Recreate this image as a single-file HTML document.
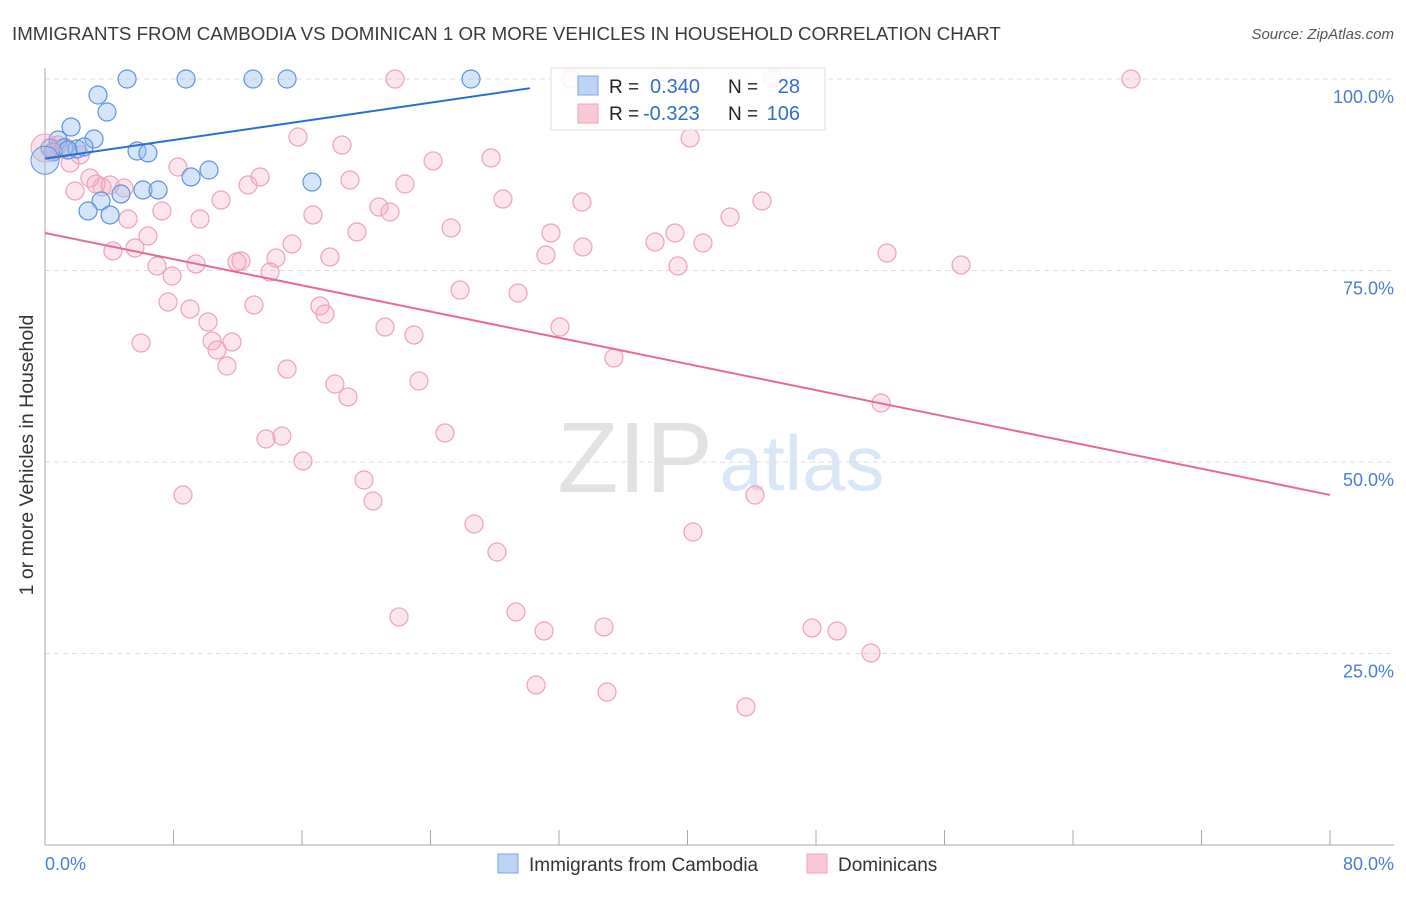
<!DOCTYPE html>
<html><head><meta charset="utf-8"><style>
body{margin:0;background:#fff;font-family:"Liberation Sans",sans-serif}
svg text{font-family:"Liberation Sans",sans-serif}
</style></head><body>
<svg width="1406" height="892" viewBox="0 0 1406 892">
<text x="12" y="40" font-size="18.7" fill="#3a3a3a">IMMIGRANTS FROM CAMBODIA VS DOMINICAN 1 OR MORE VEHICLES IN HOUSEHOLD CORRELATION CHART</text>
<text x="1394" y="39" font-size="15" fill="#555" font-style="italic" text-anchor="end">Source: ZipAtlas.com</text>
<g>
<text x="635" y="492" font-size="100" fill="#e2e2e2" text-anchor="middle" font-family="Liberation Serif,serif">ZIP</text>
<text x="802" y="490" font-size="78" fill="#d8e6f5" text-anchor="middle">atlas</text>
</g>
<g id="grid"></g>
<g id="axes"></g>
<g id="pts"></g>
<g id="trends"></g>
<text x="33" y="455" font-size="19.5" fill="#333" text-anchor="middle" transform="rotate(-90 33 455)">1 or more Vehicles in Household</text>
<text x="45" y="870" font-size="18" fill="#4a7fd0">0.0%</text>
<text x="1394" y="870" font-size="18" fill="#4a7fd0" text-anchor="end">80.0%</text>
<g>
<rect x="551" y="68" width="274" height="62" fill="rgba(255,255,255,0.85)" stroke="#ddd"/>
<rect x="578" y="76" width="20" height="19" fill="#bcd4f5" stroke="#7aa6e0"/>
<rect x="578" y="104" width="20" height="19" fill="#fbc8d6" stroke="#eea5bc"/>
<text x="609" y="93" font-size="19" fill="#222">R =</text><text x="650" y="93" font-size="20" fill="#2f6fcf">0.340</text>
<text x="728" y="93" font-size="19" fill="#222">N =</text><text x="800" y="93" font-size="20" fill="#2f6fcf" text-anchor="end">28</text>
<text x="609" y="120" font-size="19" fill="#222">R =</text><text x="643" y="120" font-size="20" fill="#2f6fcf">-0.323</text>
<text x="728" y="120" font-size="19" fill="#222">N =</text><text x="800" y="120" font-size="20" fill="#2f6fcf" text-anchor="end">106</text>
</g>
<g>
<rect x="498" y="854" width="20" height="19" fill="#bcd4f5" stroke="#7aa6e0"/>
<text x="529" y="871" font-size="19" fill="#333">Immigrants from Cambodia</text>
<rect x="807" y="854" width="20" height="19" fill="#fbc8d6" stroke="#eea5bc"/>
<text x="838" y="871" font-size="19" fill="#333">Dominicans</text>
</g>
</svg>
<script>
const yTicks=[25,50,75,100];
const yTickLabels=["25.0%","50.0%","75.0%","100.0%"];
const xTicks=[0,8,16,24,32,40,48,56,64,72,80];
const bluePx=[[127,79],[186,79],[253,79],[287,79],[471,79],[98,95],[107,112],[71,127],[58,140],[94,139],[137,151],[148,153],[64,148],[77,149],[53,152],[209,170],[191,177],[312,182],[143,190],[158,190],[121,194],[101,201],[88,211],[110,215],[50,148],[84,147],[68,150]];
const pinkPx=[[395,79],[571,79],[773,79],[1131,79],[298,137],[690,138],[342,145],[491,158],[433,161],[178,167],[260,177],[350,180],[405,184],[248,185],[75,191],[102,187],[124,188],[503,199],[582,202],[221,200],[379,207],[390,212],[162,211],[762,201],[730,217],[313,215],[200,219],[128,219],[451,228],[357,232],[551,233],[675,233],[148,236],[292,244],[583,247],[655,242],[703,243],[546,255],[330,257],[113,251],[135,248],[276,258],[241,261],[887,253],[961,265],[157,266],[196,264],[237,262],[270,272],[172,276],[678,266],[460,290],[518,293],[168,302],[254,305],[320,306],[190,309],[325,314],[208,322],[385,327],[560,327],[414,335],[212,341],[232,342],[141,343],[217,350],[614,358],[227,366],[287,369],[419,381],[335,384],[348,397],[881,403],[445,433],[282,436],[266,439],[303,461],[364,480],[183,495],[373,501],[755,495],[474,524],[693,532],[497,552],[516,612],[399,617],[544,631],[604,627],[812,628],[837,631],[871,653],[536,685],[607,692],[746,707],[55,150],[65,147],[80,155],[70,163],[90,178],[96,184],[110,185],[58,145]];
const blueX=bluePx.map(p=>+((p[0]-45)/1285*80).toFixed(2));
const blueY=bluePx.map(p=>+((845-p[1])/766*100).toFixed(2));
const pinkX=pinkPx.map(p=>+((p[0]-45)/1285*80).toFixed(2));
const pinkY=pinkPx.map(p=>+((845-p[1])/766*100).toFixed(2));
const blueTrend=[[0,89.6],[30.2,98.8]];
const pinkTrend=[[0,79.9],[80,45.7]];
const NS="http://www.w3.org/2000/svg";
function sx(v){return 45+v/80*1285;}
function sy(v){return 845-v/100*766;}
function mk(t,a,parent){const e=document.createElementNS(NS,t);for(const k in a)e.setAttribute(k,a[k]);document.getElementById(parent).appendChild(e);return e;}
yTicks.forEach((t,i)=>{
 const g=mk('line',{x1:45,x2:1394,y1:sy(t),y2:sy(t),stroke:'#ddd','stroke-dasharray':'5,4'},'grid');
 
 
 const l=mk('text',{x:1394,y:sy(t)+24,'font-size':18,fill:'#4a7fd0','text-anchor':'end'},'grid');
 l.textContent=yTickLabels[i];
 
 
});
const ya=mk('line',{x1:45,x2:45,y1:68,y2:845,stroke:'#aaa'},'axes');


const xa=mk('line',{x1:45,x2:1394,y1:845,y2:845,stroke:'#aaa'},'axes');


xTicks.forEach(t=>{
 const k=mk('line',{x1:sx(t),x2:sx(t),y1:830,y2:845,stroke:'#aaa'},'axes');
 
 
});
pinkX.forEach((x,i)=>{
 const c=mk('circle',{cx:sx(x),cy:sy(pinkY[i]),r:9,fill:'rgba(247,170,195,0.3)',stroke:'#eba3bb','stroke-width':1.2},'pts');
 
 
});
blueX.forEach((x,i)=>{
 const c=mk('circle',{cx:sx(x),cy:sy(blueY[i]),r:9,fill:'rgba(150,190,240,0.4)',stroke:'#5f93d8','stroke-width':1.2},'pts');
 
 
});
const big1=mk('circle',{cx:sx(0),cy:sy(91),r:14,fill:'rgba(247,170,195,0.35)',stroke:'#eba3bb'},'pts');


const big2=mk('circle',{cx:sx(0),cy:sy(89.4),r:14,fill:'rgba(150,190,240,0.4)',stroke:'#5f93d8'},'pts');


const bt=mk('line',{x1:sx(blueTrend[0][0]),y1:sy(blueTrend[0][1]),x2:sx(blueTrend[1][0]),y2:sy(blueTrend[1][1]),stroke:'#2a6fd0','stroke-width':2},'trends');


const pt=mk('line',{x1:sx(pinkTrend[0][0]),y1:sy(pinkTrend[0][1]),x2:sx(pinkTrend[1][0]),y2:sy(pinkTrend[1][1]),stroke:'#e8689a','stroke-width':2},'trends');


</script>
</body></html>
